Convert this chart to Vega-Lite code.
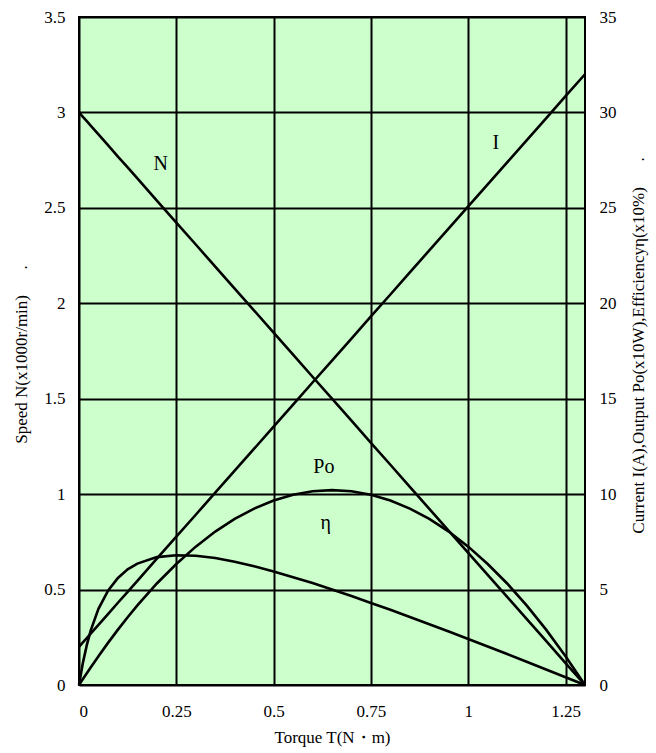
{
  "$schema": "https://vega.github.io/schema/vega-lite/v6.json",
  "width": 506,
  "height": 668,
  "autosize": "none",
  "padding": {"left": 79, "top": 17, "right": 71, "bottom": 68},
  "background": "white",
  "config": {
    "view": {"fill": "#CCFFCC", "stroke": "black", "strokeWidth": 2},
    "font": "Liberation Serif",
    "axis": {
      "labelFont": "Liberation Serif",
      "titleFont": "Liberation Serif",
      "labelFontSize": 17,
      "titleFontSize": 17,
      "titleFontWeight": "normal",
      "labelColor": "black",
      "titleColor": "black",
      "domain": false,
      "ticks": false,
      "gridColor": "black",
      "gridWidth": 2,
      "gridOpacity": 1
    }
  },
  "datasets": {
    "curves": [
      {"T": 0, "N": 3.0, "I": 2.0, "Po": 0, "eta": 0},
      {"T": 0.01, "N": 2.977, "I": 2.23, "Po": 0.31, "eta": 1.16},
      {"T": 0.02, "N": 2.954, "I": 2.46, "Po": 0.62, "eta": 2.09},
      {"T": 0.03, "N": 2.931, "I": 2.69, "Po": 0.92, "eta": 2.85},
      {"T": 0.05, "N": 2.885, "I": 3.15, "Po": 1.51, "eta": 3.99},
      {"T": 0.075, "N": 2.827, "I": 3.73, "Po": 2.22, "eta": 4.96},
      {"T": 0.1, "N": 2.769, "I": 4.31, "Po": 2.9, "eta": 5.61},
      {"T": 0.125, "N": 2.712, "I": 4.88, "Po": 3.55, "eta": 6.06},
      {"T": 0.15, "N": 2.654, "I": 5.46, "Po": 4.17, "eta": 6.36},
      {"T": 0.2, "N": 2.538, "I": 6.62, "Po": 5.32, "eta": 6.7},
      {"T": 0.25, "N": 2.423, "I": 7.77, "Po": 6.34, "eta": 6.8},
      {"T": 0.3, "N": 2.308, "I": 8.92, "Po": 7.25, "eta": 6.77},
      {"T": 0.35, "N": 2.192, "I": 10.08, "Po": 8.04, "eta": 6.65},
      {"T": 0.4, "N": 2.077, "I": 11.23, "Po": 8.7, "eta": 6.46},
      {"T": 0.45, "N": 1.962, "I": 12.38, "Po": 9.24, "eta": 6.22},
      {"T": 0.5, "N": 1.846, "I": 13.54, "Po": 9.67, "eta": 5.95},
      {"T": 0.55, "N": 1.731, "I": 14.69, "Po": 9.97, "eta": 5.65},
      {"T": 0.6, "N": 1.615, "I": 15.85, "Po": 10.15, "eta": 5.34},
      {"T": 0.65, "N": 1.5, "I": 17.0, "Po": 10.21, "eta": 5.0},
      {"T": 0.7, "N": 1.385, "I": 18.15, "Po": 10.15, "eta": 4.66},
      {"T": 0.75, "N": 1.269, "I": 19.31, "Po": 9.97, "eta": 4.3},
      {"T": 0.8, "N": 1.154, "I": 20.46, "Po": 9.67, "eta": 3.94},
      {"T": 0.85, "N": 1.038, "I": 21.62, "Po": 9.24, "eta": 3.56},
      {"T": 0.9, "N": 0.923, "I": 22.77, "Po": 8.7, "eta": 3.18},
      {"T": 0.95, "N": 0.808, "I": 23.92, "Po": 8.04, "eta": 2.8},
      {"T": 1.0, "N": 0.692, "I": 25.08, "Po": 7.25, "eta": 2.41},
      {"T": 1.05, "N": 0.577, "I": 26.23, "Po": 6.34, "eta": 2.02},
      {"T": 1.1, "N": 0.462, "I": 27.38, "Po": 5.32, "eta": 1.62},
      {"T": 1.15, "N": 0.346, "I": 28.54, "Po": 4.17, "eta": 1.22},
      {"T": 1.2, "N": 0.231, "I": 29.69, "Po": 2.9, "eta": 0.81},
      {"T": 1.25, "N": 0.115, "I": 30.85, "Po": 1.51, "eta": 0.41},
      {"T": 1.3, "N": 0, "I": 32.0, "Po": 0, "eta": 0}
    ],
    "labels": [
      {"label": "N", "T": 0.21, "value": 27.3},
      {"label": "I", "T": 1.071, "value": 28.4},
      {"label": "Po", "T": 0.629, "value": 11.4},
      {"label": "η", "T": 0.634, "value": 8.5}
    ]
  },
  "layer": [
    {
      "data": {"name": "curves"},
      "mark": {"type": "line", "color": "black", "strokeWidth": 2.6},
      "encoding": {
        "x": {
          "field": "T", "type": "quantitative",
          "scale": {"domain": [0, 1.3], "nice": false, "zero": false},
          "axis": {
            "title": "Torque T(N・m)",
            "values": [0, 0.25, 0.5, 0.75, 1, 1.25],
            "format": ".2~f",
            "labelFont": "Liberation Serif",
            "labelPadding": 18,
            "titlePadding": 10,
            "grid": true
          }
        },
        "y": {
          "field": "N", "type": "quantitative",
          "scale": {"domain": [0, 3.5], "nice": false},
          "axis": {
            "orient": "left",
            "title": "Speed N(x1000r/min)\u00a0\u00a0\u00a0\u00a0\u00a0\u00a0.",
            "values": [0, 0.5, 1, 1.5, 2, 2.5, 3, 3.5],
            "format": ".1~f",
            "labelFont": "Liberation Serif",
            "labelPadding": 14,
            "titleAngle": -90,
            "titleAlign": "center",
            "titleBaseline": "middle",
            "titleX": -58,
            "titleY": 337,
            "grid": true
          }
        }
      }
    },
    {
      "layer": [
        {
          "data": {"name": "curves"},
          "transform": [{"fold": ["I", "Po", "eta"], "as": ["series", "value"]}],
          "mark": {"type": "line", "color": "black", "strokeWidth": 2.6},
          "encoding": {
            "x": {"field": "T", "type": "quantitative"},
            "y": {
              "field": "value", "type": "quantitative",
              "scale": {"domain": [0, 35], "nice": false},
              "axis": {
                "orient": "right",
                "title": "Current I(A),Output Po(x10W),Efficiencyη(x10%)\u00a0\u00a0\u00a0\u00a0\u00a0\u00a0.",
                "values": [0, 5, 10, 15, 20, 25, 30, 35],
                "labelFont": "Liberation Serif",
                "labelPadding": 14,
                "titleAngle": -90,
                "titleAlign": "center",
                "titleBaseline": "middle",
                "titleX": 53,
                "titleY": 328,
                "grid": false
              }
            },
            "detail": {"field": "series"}
          }
        },
        {
          "data": {"name": "labels"},
          "mark": {"type": "text", "font": "Liberation Serif", "fontSize": 20, "color": "black"},
          "encoding": {
            "x": {"field": "T", "type": "quantitative"},
            "y": {"field": "value", "type": "quantitative"},
            "text": {"field": "label"}
          }
        }
      ]
    }
  ],
  "resolve": {"scale": {"y": "independent"}}
}
